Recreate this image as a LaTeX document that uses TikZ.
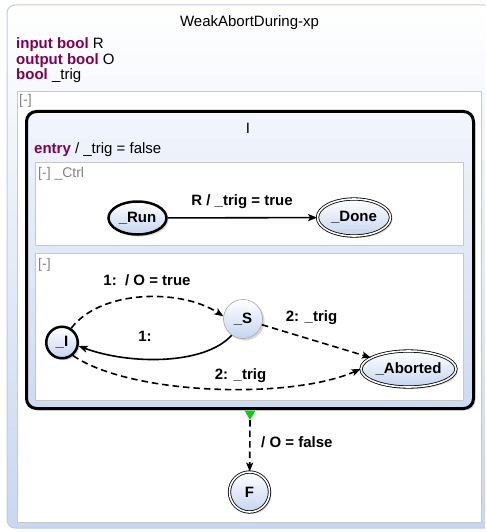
\documentclass[tikz,border=0pt]{standalone}
\usepackage{fontspec}
\setmainfont{Liberation Sans}
\usetikzlibrary{arrows.meta,shadows,shapes.geometric}
\definecolor{kw}{RGB}{127,0,85}
\definecolor{stblue}{RGB}{196,213,240}
\definecolor{ibot}{RGB}{204,219,242}
\definecolor{itop}{RGB}{242,245,252}
\definecolor{framec}{RGB}{190,204,226}
\definecolor{framebot}{RGB}{200,216,240}
\definecolor{regc}{RGB}{200,200,200}
\definecolor{hintc}{RGB}{130,130,130}
\definecolor{initg}{RGB}{10,210,10}
\newcommand\myfs{\fontsize{15pt}{15pt}\selectfont}
\newcommand\mysmallfs{\fontsize{14pt}{14pt}\selectfont}
\begin{document}
\begin{tikzpicture}[x=1pt,y=-1pt,
  txt/.style={font=\myfs, inner sep=0pt},
  hint/.style={font=\mysmallfs, text=hintc, inner sep=0pt, anchor=base west},
  lbl/.style={font=\myfs\bfseries, inner sep=0pt, anchor=base},
  shad/.style={drop shadow={opacity=0.3, shadow xshift=2pt, shadow yshift=-2pt}},
  state/.style={draw=black, font=\myfs\bfseries, inner sep=0pt, top color=white, bottom color=stblue, shad},
  thickstate/.style={state, line width=2.5pt},
  finalstate/.style={state, line width=0.8pt, double=white, double distance=1.6pt},
  plainstate/.style={state, draw=black!35, line width=0.6pt},
  trans/.style={line width=1.6pt, -{Stealth[length=9pt,width=7pt,inset=2pt]}},
  dtrans/.style={trans, dash pattern=on 6.5pt off 4pt},
  region/.style={draw=regc, fill=white, line width=0.8pt}
]
\useasboundingbox (0,0) rectangle (485,532);
\clip (0,0) rectangle (485,532);

% outer frame
\draw[rounded corners=8pt, draw=framec, line width=1pt, top color=white, bottom color=framebot] (7,5) rectangle (492,528);
\node[txt, anchor=base] (title) at (249.5,27) {WeakAbortDuring-xp};
\node[txt, anchor=base west] (d1) at (16,49) {\textcolor{kw}{\bfseries input bool} R};
\node[txt, anchor=base west] (d2) at (16,64.5) {\textcolor{kw}{\bfseries output bool} O};
\node[txt, anchor=base west] (d3) at (16,80) {\textcolor{kw}{\bfseries bool} \_trig};

% top region
\draw[region] (17,91) rectangle (481,522);
\node[hint] (h0) at (19,104) {[-]};

% superstate I
\node[draw=black, line width=3pt, rounded corners=10pt, top color=itop, bottom color=ibot, shad,
      minimum width=447pt, minimum height=297pt, inner sep=0pt] (Ist) at (250,260) {};
\node[txt, anchor=base] (Ilbl) at (248,133) {I};
\node[txt, anchor=base west] (entry) at (34,153) {\textcolor{kw}{\bfseries entry} / \_trig = false};

% region _Ctrl
\draw[region] (35,162) rectangle (463,245);
\node[hint] (h1) at (38,177) {[-] \_Ctrl};
\node[thickstate, ellipse, minimum width=58pt, minimum height=33pt] (run) at (137.5,218) {\_Run};
\node[finalstate, ellipse, minimum width=73pt, minimum height=37pt] (done) at (354,217.5) {\_Done};
\draw[trans] (run) -- (done);
\node[lbl] (l1) at (242,205) {R / \_trig = true};

% region 2
\draw[region] (35,253) rectangle (463,400);
\node[hint] (h2) at (38,268) {[-]};
\node[thickstate, circle, minimum size=31.5pt] (nI) at (62,342.5) {\_I};
\node[plainstate, circle, minimum size=39pt] (nS) at (243,319) {\_S};
\node[finalstate, ellipse, minimum width=95pt, minimum height=36pt] (nA) at (408.5,369) {\_Aborted};

\draw[dtrans] (nI.57) .. controls (100,290) and (180,288) .. (nS.172);
\node[lbl] (l2) at (147,285) {1:\ \ / O = true};
\draw[trans] (nS.235) .. controls (205,365) and (130,365) .. (nI.-12);
\node[lbl] (l3) at (145,341) {1:};
\draw[dtrans] (nS) -- (nA);
\node[lbl] (l4) at (311.5,321) {2: \_trig};
\draw[dtrans] (nI.-50) .. controls (130,395) and (290,400) .. (nA.west);
\node[lbl] (l5) at (240.5,379) {2: \_trig};

% exit transition
\coordinate (tip) at (250,420);
\fill[initg] (244.5,410.5) -- (255.5,410.5) -- (tip) -- cycle;
\node[finalstate, circle, minimum size=40pt] (F) at (249.5,492) {F};
\draw[dtrans] (tip) -- (F);
\node[lbl, anchor=base west] (l6) at (261,447) {/ O = false};
\end{tikzpicture}
\end{document}
